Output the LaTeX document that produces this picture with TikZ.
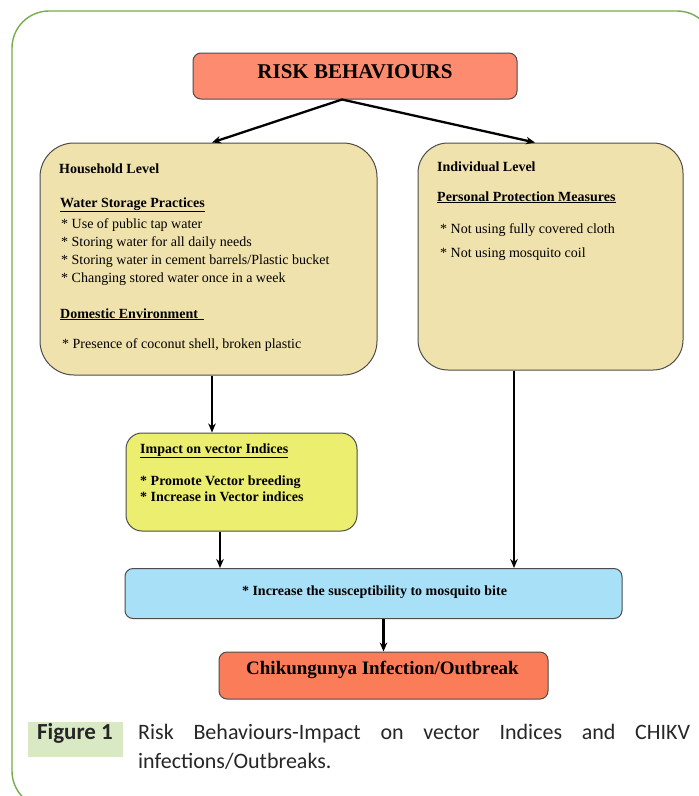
\documentclass[tikz,border=0pt]{standalone}
\usepackage{fontspec}
\setmainfont{Liberation Serif}
\newfontfamily\capfont{Carlito}
\usepackage{tikz}
\usetikzlibrary{arrows.meta, positioning}
\definecolor{framegreen}{RGB}{118,172,75}
\definecolor{riskred}{RGB}{253,139,112}
\definecolor{levelbeige}{RGB}{240,226,172}
\definecolor{indexyellow}{RGB}{236,238,112}
\definecolor{biteblue}{RGB}{168,224,248}
\definecolor{outcomered}{RGB}{250,124,88}
\definecolor{figgreen}{RGB}{217,233,196}

\begin{document}
\begin{tikzpicture}[x=1pt, y=-1pt,
    box/.style={draw=black!70, line width=1pt, rounded corners=#1, inner sep=0pt},
    box/.default=8pt,
    hd/.style={anchor=base west, inner sep=0pt, font=\fontsize{14}{16}\selectfont\bfseries},
    item/.style={anchor=base west, inner sep=0pt, font=\fontsize{14}{16}\selectfont},
    arr/.style={-{Stealth[length=9pt, width=7.5pt]}, line width=2.3pt, black}]
\useasboundingbox (0,0) rectangle (699,796);
\clip (0,0) rectangle (699,796);

% green frame round the figure
\draw[framegreen, line width=1.4pt, rounded corners=37pt] (12,11) rectangle (714,808);

% top box
\node[box, fill=riskred, minimum width=324pt, minimum height=46pt] (risk) at (355,76) {};
\node[anchor=base, inner sep=0pt, font=\fontsize{21}{24}\selectfont\bfseries] (risktxt) at (355,78) {RISK BEHAVIOURS};

% household level
\node[box=34pt, fill=levelbeige, minimum width=337pt, minimum height=232pt] (house) at (208.5,259) {};
\node[hd] (househd) at (59,173) {Household Level};
\node[hd] (water) at (60,207) {\underline{Water Storage Practices}};
\foreach \y/\t in {228/{* Use of public tap water},
                   246/{* Storing water for all daily needs},
                   264/{* Storing water in cement barrels/Plastic bucket},
                   282/{* Changing stored water once in a week}}
    \node[item] (water-\y) at (61,\y) {\t};
\node[hd] (domestic) at (60,318) {\underline{Domestic Environment\ \,}};
\node[item] (shell) at (62,348) {* Presence of coconut shell, broken plastic};

% individual level
\node[box=30pt, fill=levelbeige, minimum width=265pt, minimum height=227pt] (indiv) at (550.5,256.5) {};
\node[hd] (indivhd) at (437,171) {Individual Level};
\node[hd] (protect) at (437,201) {\underline{Personal Protection Measures}};
\node[item] (cloth) at (440,233) {* Not using fully covered cloth};
\node[item] (coil) at (440,257) {* Not using mosquito coil};

% vector indices
\node[box=16pt, fill=indexyellow, minimum width=231pt, minimum height=98pt] (impact) at (241.5,482) {};
\node[hd] (impacthd) at (140,453) {\underline{Impact on vector Indices}};
\node[hd] (breed) at (140,485) {* Promote Vector breeding};
\node[hd] (indices) at (140,501) {* Increase in Vector indices};

% susceptibility
\node[box, fill=biteblue, minimum width=497pt, minimum height=50pt] (bite) at (373.5,593.5) {};
\node[anchor=base, inner sep=0pt, font=\fontsize{14}{16}\selectfont\bfseries] (bitetxt) at (374.5,595) {* Increase the susceptibility to mosquito bite};

% outcome
\node[box, fill=outcomered, minimum width=329pt, minimum height=47pt] (chik) at (383.5,675.5) {};
\node[anchor=base, inner sep=0pt, font=\fontsize{19}{22}\selectfont\bfseries] (chiktxt) at (382.5,674) {Chikungunya Infection/Outbreak};

% arrows
\draw[arr] ([xshift=-13pt]risk.south) -- ([xshift=3.5pt]house.north);
\draw[arr] ([xshift=-13pt]risk.south) -- ([xshift=-15.5pt]indiv.north);
\draw[arr] ([xshift=3.5pt]house.south) -- ([xshift=3.5pt]house.south |- impact.north);
\draw[arr] ([xshift=-21.5pt]impact.south) -- ([xshift=-21.5pt]impact.south |- bite.north);
\draw[arr] ([xshift=-36.5pt]indiv.south) -- ([xshift=-36.5pt]indiv.south |- bite.north);
\draw[arr] (chik.north |- bite.south) -- (chik.north);

% caption
\node[fill=figgreen, minimum width=95pt, minimum height=35pt, inner sep=0pt] (figbox) at (75.5,739.5) {};
\node[anchor=base, inner sep=0pt, font=\capfont\fontsize{23}{26}\selectfont\bfseries, text=black!85] (figlbl) at (75,739) {Figure 1};
\node[anchor=base west, inner sep=0pt, text width=552pt, align=justify,
      font=\capfont\fontsize{22}{29}\selectfont, text=black!85] (caption) at (138,739)
    {Risk Behaviours-Impact on vector Indices and CHIKV\linebreak infections/Outbreaks.};
\end{tikzpicture}
\end{document}
